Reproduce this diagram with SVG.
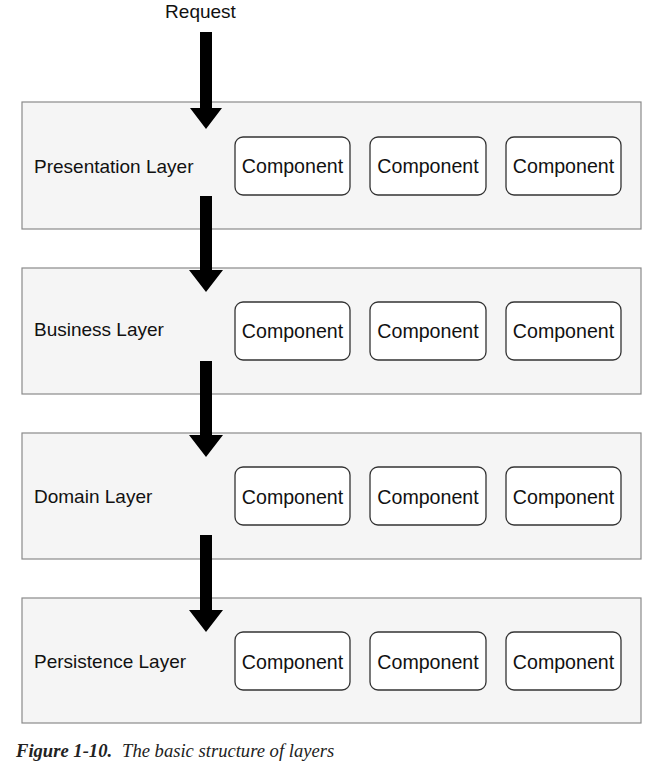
<svg xmlns="http://www.w3.org/2000/svg" width="668" height="777" viewBox="0 0 668 777">
<style>
.layer{fill:#f5f5f5;stroke:#8a8a8a;stroke-width:1.2}
.comp{fill:#fff;stroke:#333;stroke-width:1.3}
.t{font-family:"Liberation Sans",Arial,sans-serif;font-size:19.6px;fill:#111}
.l{font-size:19px}
.c{text-anchor:middle;dominant-baseline:central}
.cap{font-family:"Liberation Serif","Times New Roman",serif;font-size:18.6px;font-style:italic;fill:#222}
.arr{fill:#000}
</style>
<rect width="668" height="777" fill="#fff"/>
<g id="layer-presentation">
<rect class="layer" x="22" y="102" width="619" height="127"/>
<text class="t l" x="34" y="173">Presentation Layer</text>
<rect class="comp" x="235" y="137" width="115" height="58" rx="8"/><text class="t c" x="292.5" y="166">Component</text>
<rect class="comp" x="370" y="137" width="116" height="58" rx="8"/><text class="t c" x="428" y="166">Component</text>
<rect class="comp" x="506" y="137" width="115" height="58" rx="8"/><text class="t c" x="563.5" y="166">Component</text>
</g>
<g id="layer-business">
<rect class="layer" x="22" y="268" width="619" height="126"/>
<text class="t l" x="34" y="336">Business Layer</text>
<rect class="comp" x="235" y="302" width="115" height="58" rx="8"/><text class="t c" x="292.5" y="331">Component</text>
<rect class="comp" x="370" y="302" width="116" height="58" rx="8"/><text class="t c" x="428" y="331">Component</text>
<rect class="comp" x="506" y="302" width="115" height="58" rx="8"/><text class="t c" x="563.5" y="331">Component</text>
</g>
<g id="layer-domain">
<rect class="layer" x="22" y="433" width="619" height="126"/>
<text class="t l" x="34" y="503">Domain Layer</text>
<rect class="comp" x="235" y="467" width="115" height="58" rx="8"/><text class="t c" x="292.5" y="497">Component</text>
<rect class="comp" x="370" y="467" width="116" height="58" rx="8"/><text class="t c" x="428" y="497">Component</text>
<rect class="comp" x="506" y="467" width="115" height="58" rx="8"/><text class="t c" x="563.5" y="497">Component</text>
</g>
<g id="layer-persistence">
<rect class="layer" x="22" y="598" width="619" height="125"/>
<text class="t l" x="34" y="668">Persistence Layer</text>
<rect class="comp" x="235" y="632" width="115" height="58" rx="8"/><text class="t c" x="292.5" y="662">Component</text>
<rect class="comp" x="370" y="632" width="116" height="58" rx="8"/><text class="t c" x="428" y="662">Component</text>
<rect class="comp" x="506" y="632" width="115" height="58" rx="8"/><text class="t c" x="563.5" y="662">Component</text>
</g>
<g id="request">
<text class="t l" x="200.5" y="18" text-anchor="middle">Request</text>
</g>
<g id="connectors">
<polygon class="arr" points="200,32 212,32 212,108 222,108 206,129 190,108 200,108"/>
<polygon class="arr" points="200,196 212,196 212,270 223,270 206,292 189,270 200,270"/>
<polygon class="arr" points="200,361 212,361 212,435 223,435 206,457 189,435 200,435"/>
<polygon class="arr" points="200,535 212,535 212,610 223,610 206,632 189,610 200,610"/>
</g>
<g id="caption">
<text class="cap" x="16" y="757"><tspan font-weight="bold">Figure 1-10.</tspan><tspan dx="10">The basic structure of layers</tspan></text>
</g>
</svg>
